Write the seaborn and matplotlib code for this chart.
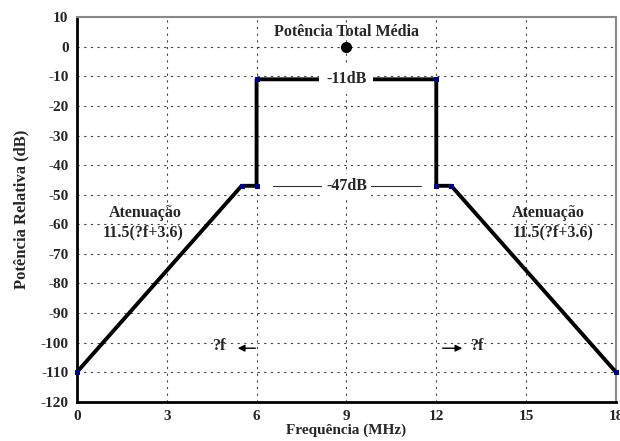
import matplotlib
matplotlib.use("Agg")
import matplotlib.pyplot as plt
import seaborn as sns
import pandas as pd

freq = [0, 5.5, 6, 6, 12, 12, 12.5, 18]
power = [-110, -47, -47, -11, -11, -47, -47, -110]
x_ticks = [0, 3, 6, 9, 12, 15, 18]
y_ticks = list(range(-120, 11, 10))

sns.set_style("white")
plt.rcParams['font.family'] = ['Liberation Serif', 'DejaVu Serif']
plt.rcParams['font.weight'] = 'bold'
plt.rcParams['axes.unicode_minus'] = False

fig = plt.figure(figsize=(6.2, 4.41), dpi=100)
ax = fig.add_axes([0.124, 0.089, 0.8695, 0.872])

df = pd.DataFrame({"f": freq, "p": power})
sns.lineplot(data=df, x="f", y="p", sort=False, estimator=None, errorbar=None,
             ax=ax, color="black", lw=2.8,
             marker="s", markersize=3.5, markerfacecolor="#000080",
             markeredgecolor="#000080", clip_on=False, zorder=3)

# mean power dot
ax.plot([9], [0], marker="o", color="black", markersize=7, zorder=4)

ax.set_xlim(0, 18)
ax.set_ylim(-120, 10)
ax.set_xticks(x_ticks)
ax.set_yticks(y_ticks)
ax.tick_params(axis="both", labelsize=11, length=4, width=1, direction="out",
               color="black", pad=2)
for lab in ax.get_xticklabels() + ax.get_yticklabels():
    lab.set_fontweight("bold")

ax.grid(True, color="#444444", lw=0.8, linestyle=(0, (2, 4)))
for s in ["left", "bottom"]:
    ax.spines[s].set_color("black")
    ax.spines[s].set_linewidth(2)
for s in ["top", "right"]:
    ax.spines[s].set_color("#888888")
    ax.spines[s].set_linewidth(1.5)

ax.set_xlabel("Frequência (MHz)", fontsize=11, fontweight="bold", labelpad=0)
ax.set_ylabel("Potência Relativa (dB)", fontsize=12, fontweight="bold", labelpad=8)

tkw = dict(fontsize=11.5, fontweight="bold", ha="center", va="center")
ax.text(9, 4.9, "Potência Total Média", **tkw)
ax.text(9, -11, "-11dB", bbox=dict(facecolor="white", edgecolor="none", pad=5), zorder=5, **tkw)
ax.plot([6.55, 11.5], [-47, -47], color="#333333", lw=0.8, zorder=2)
ax.text(9, -47, "-47dB", bbox=dict(facecolor="white", edgecolor="none", pad=3), zorder=5, **tkw)
ax.text(2.3, -56.3, "Atenuação", **tkw)
ax.text(2.2, -62.6, "11.5(?f+3.6)", **tkw)
ax.text(15.75, -56.3, "Atenuação", **tkw)
ax.text(15.9, -62.6, "11.5(?f+3.6)", **tkw)
ax.text(4.75, -101.2, "?f", **tkw)
ax.text(13.35, -101.2, "?f", **tkw)
ax.annotate("", xy=(5.28, -101.9), xytext=(6.05, -101.9),
            arrowprops=dict(arrowstyle="-|>", color="black", lw=1, mutation_scale=10))
ax.annotate("", xy=(12.96, -101.9), xytext=(12.12, -101.9),
            arrowprops=dict(arrowstyle="-|>", color="black", lw=1, mutation_scale=10))

fig.savefig("out.png", dpi=100)
